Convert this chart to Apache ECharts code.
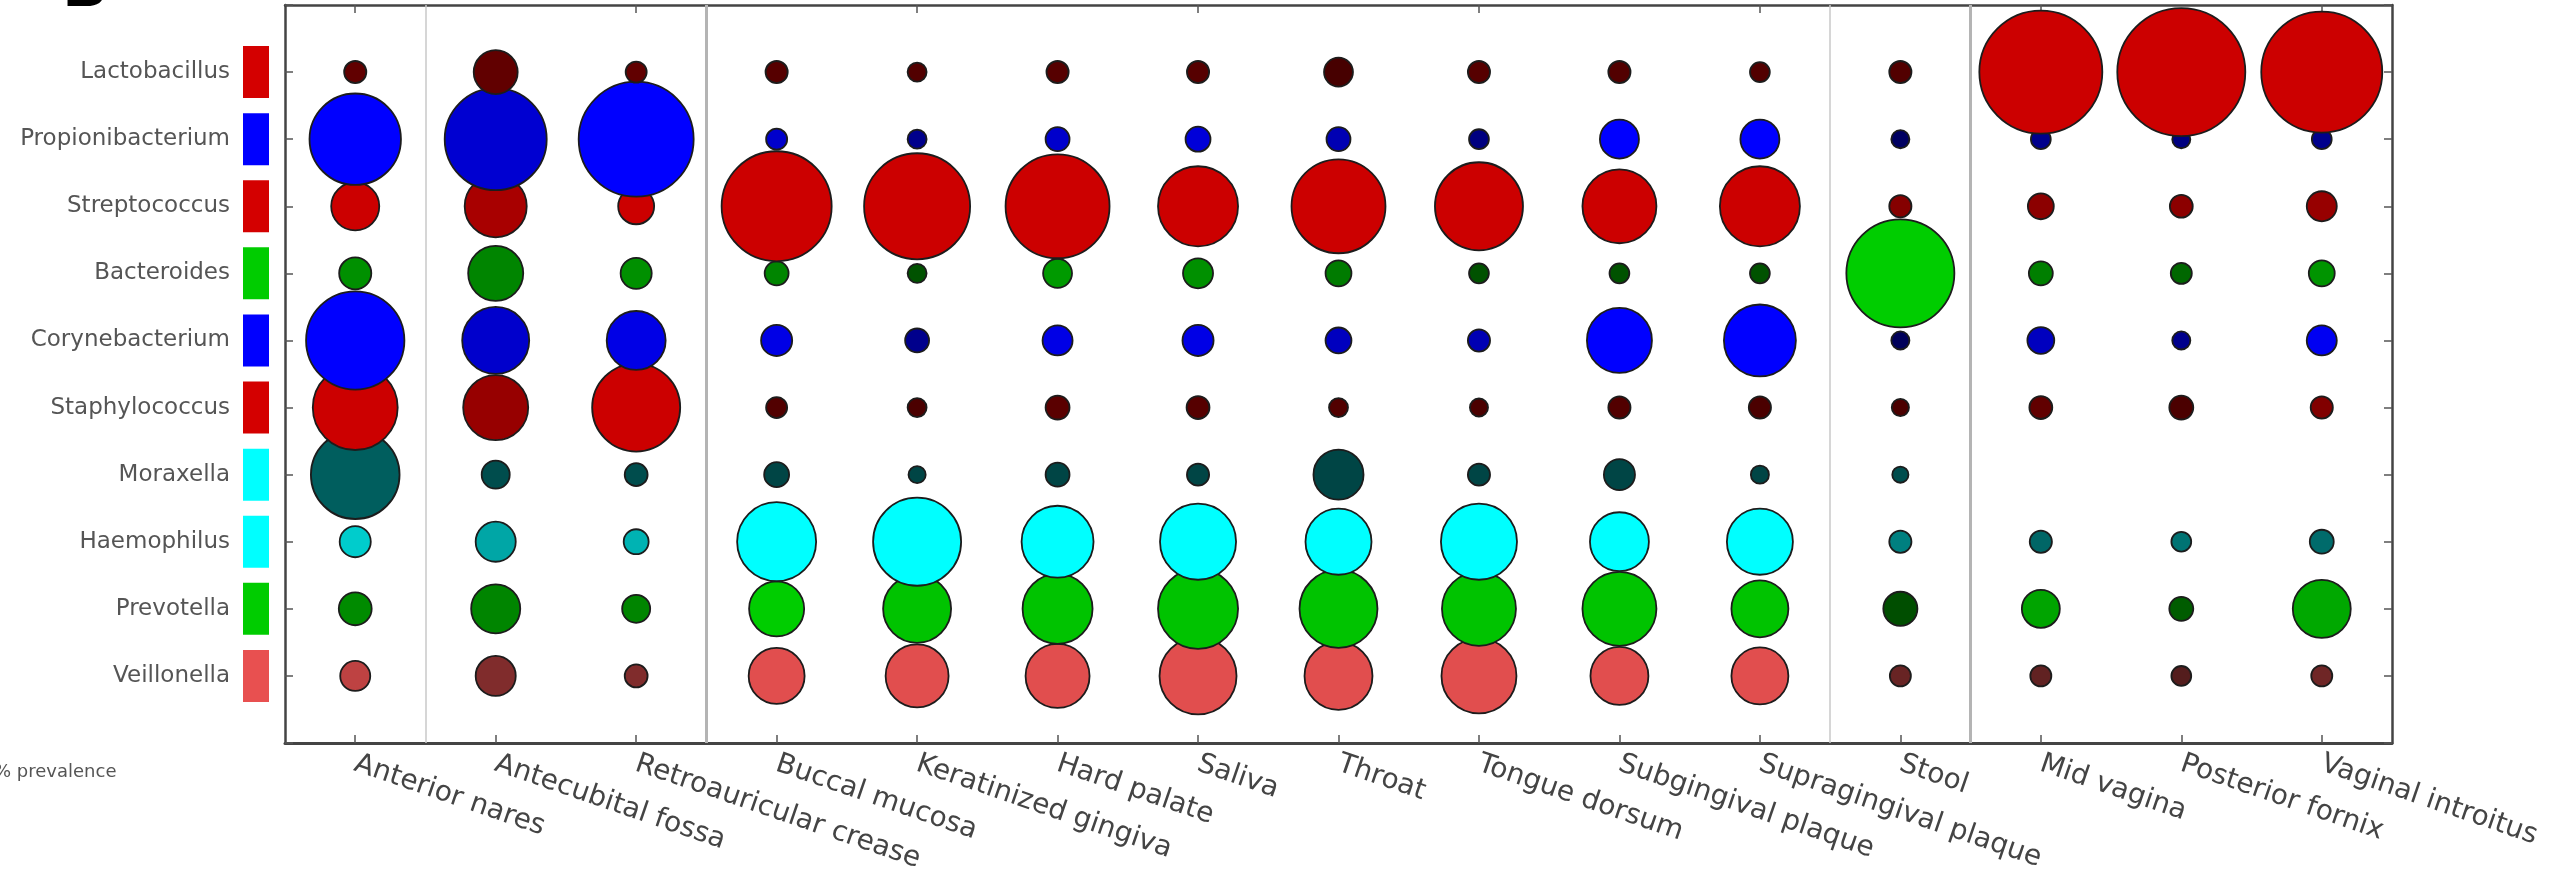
<!DOCTYPE html>
<html>
<head>
<meta charset="utf-8">
<style>
  html, body { margin: 0; padding: 0; background: #ffffff; }
  #chart { width: 2554px; height: 879px; }
</style>
<script src="https://cdn.jsdelivr.net/npm/echarts@6/dist/echarts.min.js"></script>
</head>
<body>
<div id="chart"></div>
<script>
// ---------------- DATA ----------------
const sites = ['Anterior nares', 'Antecubital fossa', 'Retroauricular crease', 'Buccal mucosa',
  'Keratinized gingiva', 'Hard palate', 'Saliva', 'Throat', 'Tongue dorsum',
  'Subgingival plaque', 'Supragingival plaque', 'Stool', 'Mid vagina', 'Posterior fornix',
  'Vaginal introitus'];

const genera = ['Lactobacillus', 'Propionibacterium', 'Streptococcus', 'Bacteroides',
  'Corynebacterium', 'Staphylococcus', 'Moraxella', 'Haemophilus', 'Prevotella', 'Veillonella'];

// marker magnitude per site (area-proportional value, % scale)
const lactobacillus     = [3.0, 11.8, 2.7, 3.0, 2.2, 3.0, 3.0, 5.1, 3.0, 3.0, 2.4, 3.0, 92.3, 100, 89.4];
const propionibacterium = [51.0, 63.5, 80.7, 2.7, 2.2, 3.5, 3.8, 3.5, 2.4, 9.3, 9.3, 2.0, 2.4, 2.0, 2.4];
const streptococcus     = [14.1, 23.5, 7.9, 73.9, 68.6, 66.0, 39.1, 53.9, 47.3, 33.4, 39.1, 3.0, 4.1, 3.2, 5.5];
const bacteroides       = [6.3, 18.5, 5.9, 3.5, 2.2, 5.1, 5.5, 4.1, 2.4, 2.4, 2.4, 71.2, 3.5, 2.7, 4.1];
const corynebacterium   = [59.0, 27.4, 21.2, 5.9, 3.5, 5.5, 5.9, 4.1, 3.0, 25.8, 31.6, 2.0, 4.4, 2.0, 5.5];
const staphylococcus    = [44.0, 25.8, 47.3, 2.7, 2.2, 3.5, 3.2, 2.2, 2.0, 3.0, 3.0, 1.8, 3.2, 3.5, 3.0];
const moraxella         = [48.0, 4.8, 3.2, 3.8, 1.8, 3.5, 3.0, 15.3, 3.0, 5.9, 2.0, 1.6, null, null, null];
const haemophilus       = [5.9, 9.8, 3.8, 38.1, 47.3, 31.6, 35.3, 26.6, 35.3, 21.2, 26.6, 3.0, 3.0, 2.4, 3.5];
const prevotella        = [6.6, 14.7, 4.8, 18.5, 28.2, 29.9, 39.1, 37.1, 33.4, 33.4, 19.8, 7.1, 8.8, 3.5, 20.5];
const veillonella       = [5.5, 9.8, 3.2, 19.1, 24.2, 25.0, 36.2, 28.2, 34.3, 20.5, 19.8, 2.7, 2.7, 2.4, 2.7];

// colour intensity per site (0 = black, 1 = full genus colour)
const lactobacillusShade     = [0.45, 0.45, 0.45, 0.40, 0.38, 0.40, 0.40, 0.33, 0.40, 0.38, 0.38, 0.38, 0.95, 0.95, 0.95];
const propionibacteriumShade = [1.00, 0.82, 1.00, 0.80, 0.55, 0.80, 0.85, 0.70, 0.50, 1.00, 1.00, 0.38, 0.55, 0.50, 0.55];
const streptococcusShade     = [0.95, 0.78, 0.95, 0.95, 0.95, 0.95, 0.95, 0.95, 0.95, 0.95, 0.95, 0.62, 0.65, 0.65, 0.70];
const bacteroidesShade       = [0.70, 0.65, 0.70, 0.65, 0.40, 0.75, 0.70, 0.60, 0.40, 0.40, 0.40, 1.00, 0.62, 0.50, 0.72];
const corynebacteriumShade   = [1.00, 0.80, 0.90, 0.90, 0.55, 0.90, 0.90, 0.75, 0.70, 1.00, 1.00, 0.35, 0.75, 0.55, 0.95];
const staphylococcusShade    = [0.95, 0.70, 0.95, 0.38, 0.35, 0.42, 0.40, 0.38, 0.35, 0.38, 0.35, 0.35, 0.45, 0.35, 0.60];
const moraxellaShade         = [0.37, 0.30, 0.30, 0.27, 0.27, 0.27, 0.27, 0.27, 0.27, 0.27, 0.27, 0.30, 0.30, 0.30, 0.30];
const haemophilusShade       = [0.80, 0.65, 0.70, 1.00, 1.00, 1.00, 1.00, 1.00, 1.00, 1.00, 1.00, 0.50, 0.40, 0.45, 0.42];
const prevotellaShade        = [0.68, 0.65, 0.65, 1.00, 0.95, 0.95, 0.95, 0.95, 0.95, 0.95, 0.95, 0.38, 0.80, 0.45, 0.82];
const veillonellaShade       = [0.82, 0.55, 0.55, 0.97, 0.97, 0.97, 0.97, 0.97, 0.97, 0.97, 0.97, 0.45, 0.42, 0.36, 0.48];

// site-group boundaries (between columns)
const groupBoundaries = [0.5, 2.5, 10.5, 11.5];
const majorBoundaries = [2.5, 11.5];

// ---------------- STYLE ----------------
const valueRows = [lactobacillus, propionibacterium, streptococcus, bacteroides, corynebacterium,
  staphylococcus, moraxella, haemophilus, prevotella, veillonella];
const shadeRows = [lactobacillusShade, propionibacteriumShade, streptococcusShade, bacteroidesShade,
  corynebacteriumShade, staphylococcusShade, moraxellaShade, haemophilusShade, prevotellaShade, veillonellaShade];
const baseRGB = [[215,0,0],[0,0,255],[215,0,0],[0,205,0],[0,0,255],[215,0,0],[0,255,255],[0,255,255],[0,205,0],[232,80,80]];
const boxColors = ['#d40000','#0000ff','#d40000','#00cc00','#0000ff','#d40000','#00ffff','#00ffff','#00cc00','#e85050'];
const SIZE_K = 12.8;
const FONT = 'DejaVu Sans';

function shadeColor(rgb, s) {
  return 'rgb(' + rgb.map(c => Math.round(c * s)).join(',') + ')';
}

const rich = { n: { fontSize: 23, color: '#555', fontFamily: FONT, padding: [0, 13, 0, 0] } };
genera.forEach((g, i) => {
  rich['b' + i] = { width: 26, height: 52, backgroundColor: boxColors[i] };
});

const bubbleSeries = [];
for (let gi = genera.length - 1; gi >= 0; gi--) {
  const data = [];
  valueRows[gi].forEach((v, si) => {
    if (v == null) return;
    data.push({
      value: [si, gi, v],
      itemStyle: { color: shadeColor(baseRGB[gi], shadeRows[gi][si]) }
    });
  });
  bubbleSeries.push({
    type: 'scatter',
    name: genera[gi],
    xAxisIndex: 0,
    yAxisIndex: 0,
    data: data,
    symbol: 'circle',
    symbolSize: d => SIZE_K * Math.sqrt(d[2]),
    itemStyle: { borderColor: '#1c1c1c', borderWidth: 1.8, opacity: 1 },
    emphasis: { disabled: true },
    silent: true,
    z: 3
  });
}

const sepSeries = {
  type: 'line',
  xAxisIndex: 2,
  yAxisIndex: 0,
  data: [],
  silent: true,
  z: 1,
  markLine: {
    silent: true,
    symbol: ['none', 'none'],
    label: { show: false },
    animation: false,
    data: groupBoundaries.map(b => ({
      xAxis: b,
      lineStyle: majorBoundaries.includes(b)
        ? { color: '#b4b4b4', width: 3, type: 'solid' }
        : { color: '#c8c8c8', width: 1.5, type: 'solid' }
    }))
  }
};

const axisLineStyle = { color: '#444', width: 2.5 };
const tickStyle = { color: '#555', width: 1.5 };

const option = {
  animation: false,
  backgroundColor: '#ffffff',
  textStyle: { fontFamily: FONT },
  grid: { left: 285, right: 162, top: 5, bottom: 136, containLabel: false },
  xAxis: [
    {
      type: 'category', data: sites, position: 'bottom', boundaryGap: true,
      axisLine: { show: true, onZero: false, lineStyle: { color: '#444', width: 3 } },
      axisTick: { show: true, inside: true, alignWithLabel: true, length: 8, lineStyle: tickStyle },
      axisLabel: { interval: 0, rotate: -19, fontSize: 28, color: '#444', fontFamily: FONT, margin: 20 },
      splitLine: { show: false }
    },
    {
      type: 'category', data: sites, position: 'top', boundaryGap: true,
      axisLine: { show: true, onZero: false, lineStyle: axisLineStyle },
      axisTick: { show: true, inside: true, alignWithLabel: true, length: 8, lineStyle: tickStyle },
      axisLabel: { show: false },
      splitLine: { show: false }
    },
    {
      type: 'value', min: -0.5, max: 14.5, show: false, splitLine: { show: false },
      axisLine: { onZero: false }
    }
  ],
  yAxis: [
    {
      type: 'value', min: -1, max: 10, interval: 1, inverse: true, position: 'left',
      axisLine: { show: true, onZero: false, lineStyle: axisLineStyle },
      axisTick: { show: true, inside: true, length: 8, lineStyle: tickStyle },
      axisLabel: {
        margin: 16,
        formatter: v => (v >= 0 && v < genera.length) ? '{n|' + genera[v] + '}{b' + v + '|}' : '',
        rich: rich
      },
      splitLine: { show: false }
    },
    {
      type: 'value', min: -1, max: 10, interval: 1, inverse: true, position: 'right',
      axisLine: { show: true, onZero: false, lineStyle: axisLineStyle },
      axisTick: { show: true, inside: true, length: 8, lineStyle: tickStyle },
      axisLabel: { show: false },
      splitLine: { show: false }
    }
  ],
  graphic: [
    { type: 'text', left: 62, top: -40, style: { text: 'B', fontSize: 60, fontWeight: 'bold', fill: '#000', fontFamily: FONT } },
    { type: 'text', left: -6, top: 763, style: { text: '% prevalence', fontSize: 18, fill: '#555', fontFamily: FONT } }
  ],
  series: [sepSeries].concat(bubbleSeries)
};

const chart = echarts.init(document.getElementById('chart'), null, { renderer: 'canvas' });
chart.setOption(option);
</script>
</body>
</html>
